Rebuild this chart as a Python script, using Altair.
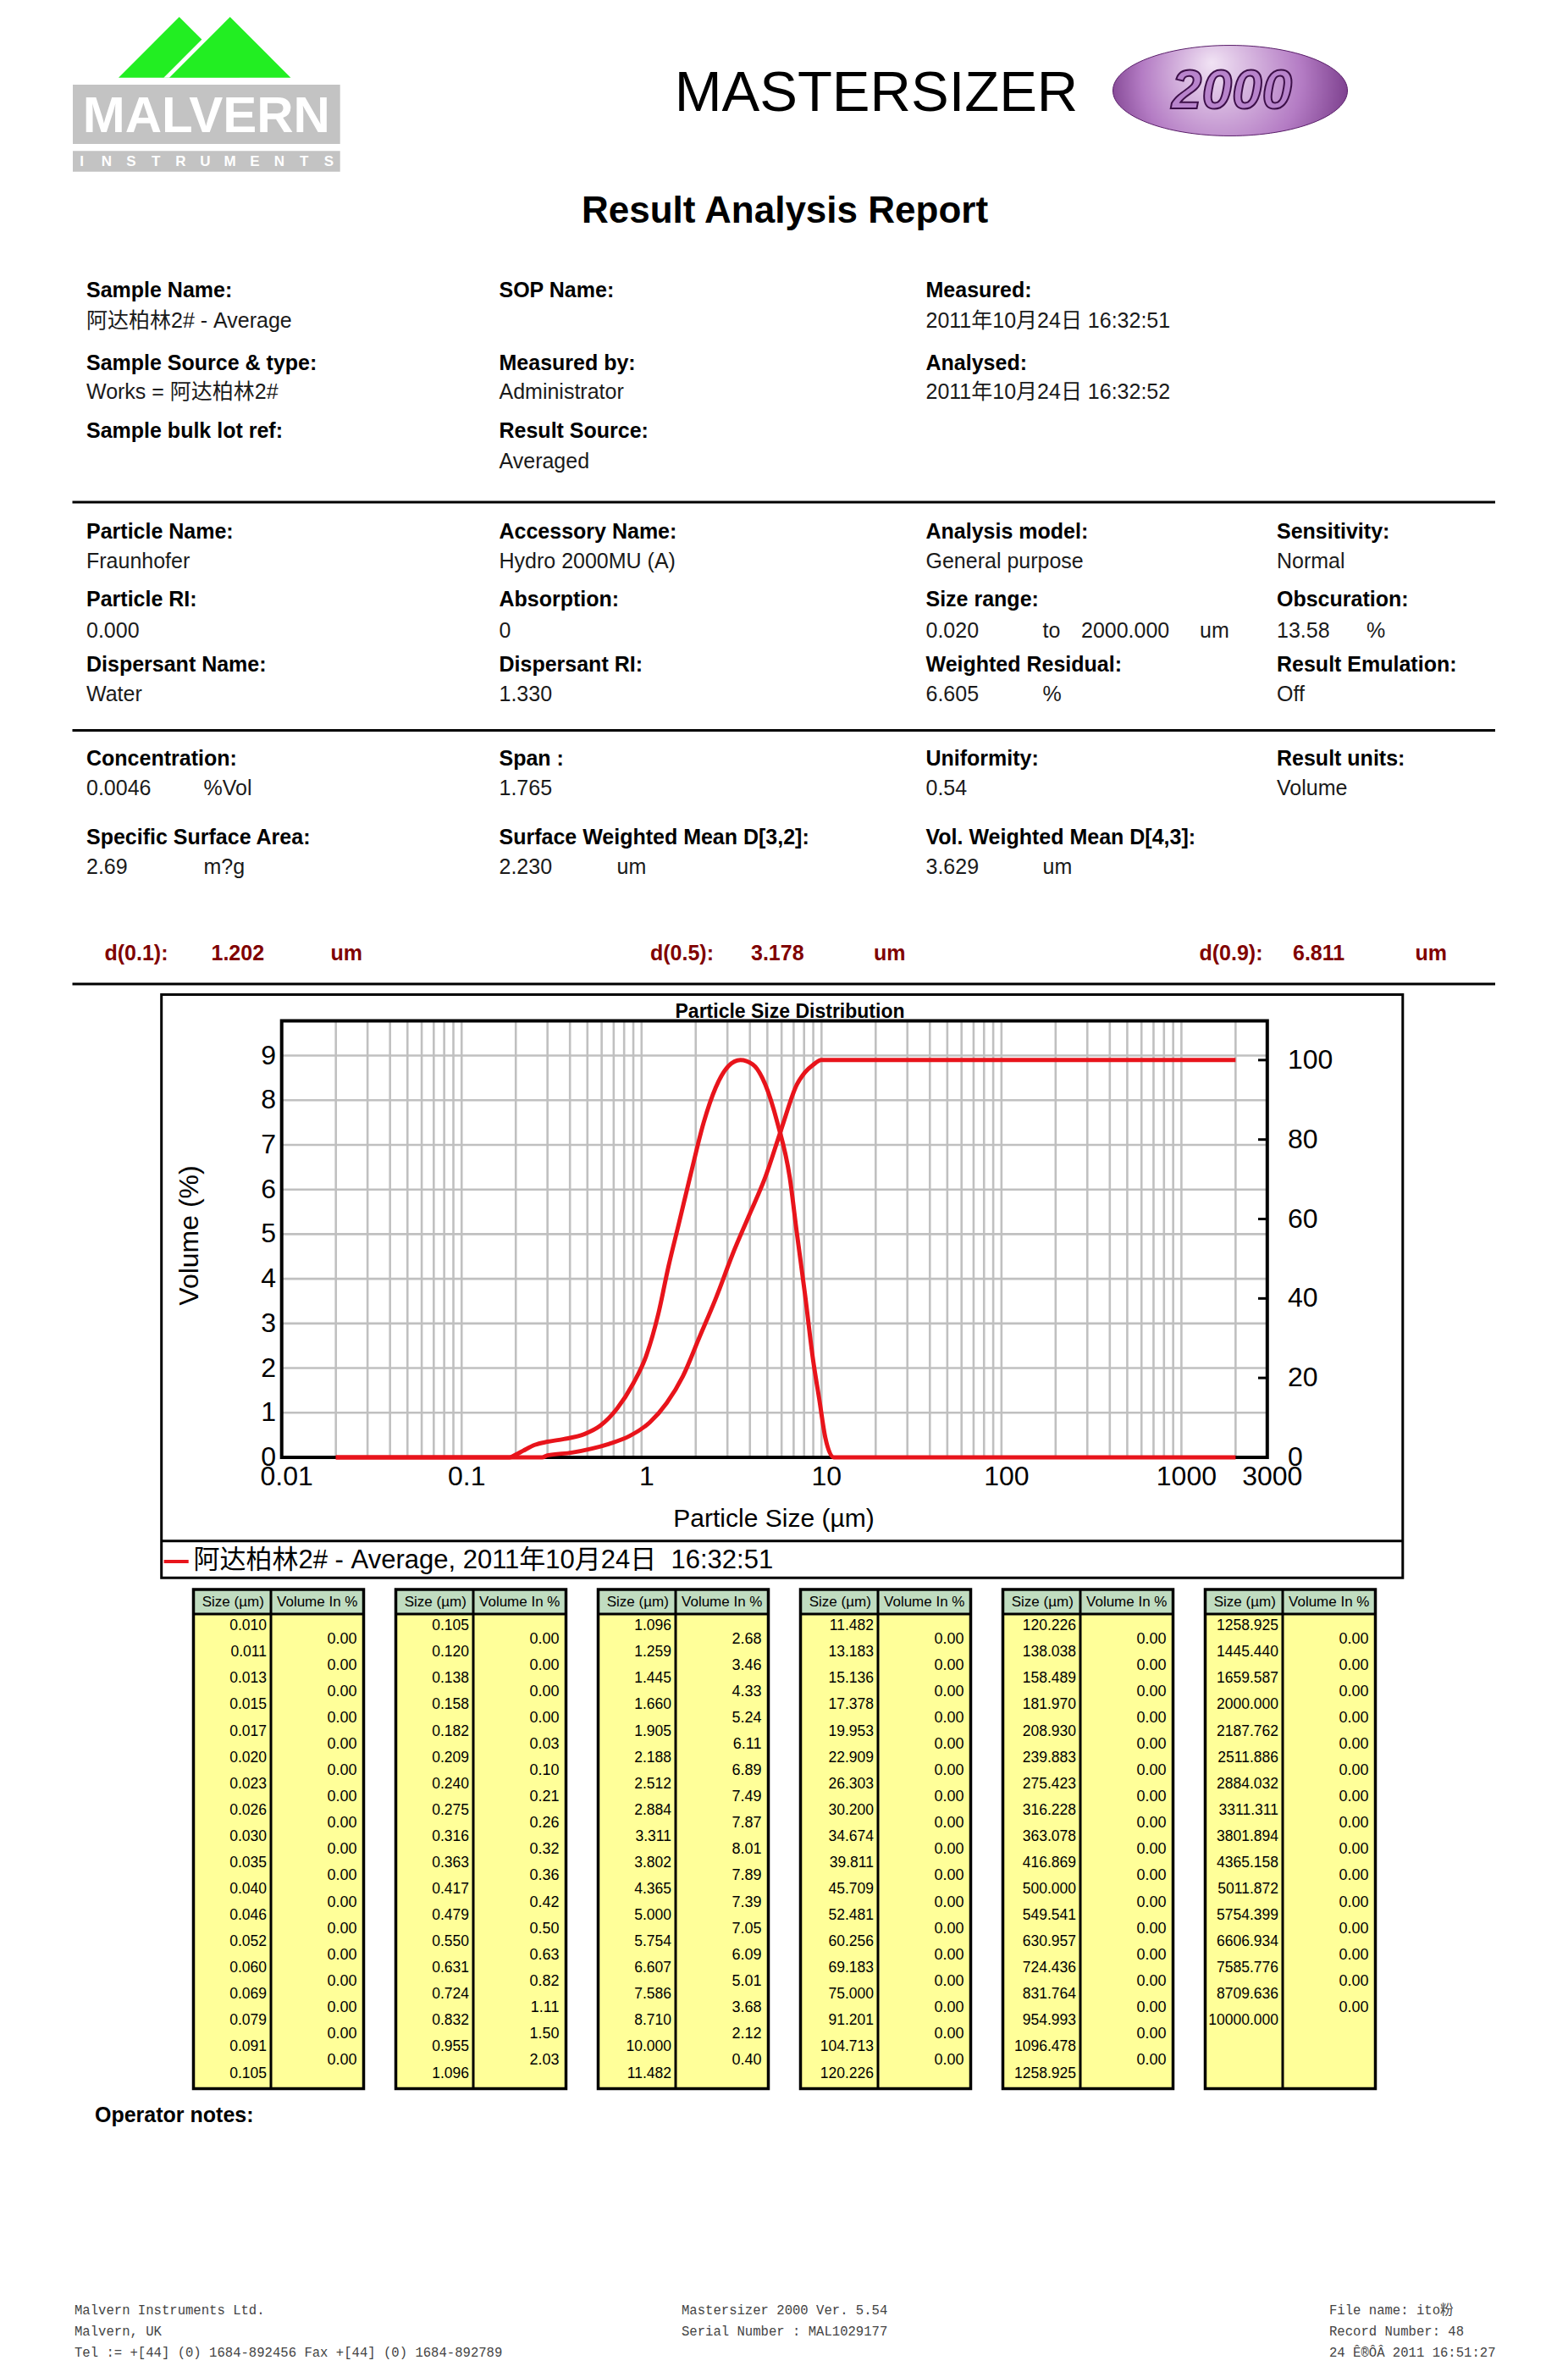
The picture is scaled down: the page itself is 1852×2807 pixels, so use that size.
import altair as alt
import pandas as pd

OFF = 8
W, H = 1836, 2791
FONT = "Liberation Sans, Arial, Noto Sans CJK SC, sans-serif"
MONO = "Liberation Mono, DejaVu Sans Mono, Noto Sans CJK SC, monospace"
RED = "#e8141b"
GRID = "#c0c0c0"
DARKRED = "#800000"

# ---------------- data ----------------
SIZE_LABELS = [
    "0.010", "0.011", "0.013", "0.015", "0.017", "0.020", "0.023", "0.026", "0.030", "0.035",
    "0.040", "0.046", "0.052", "0.060", "0.069", "0.079", "0.091", "0.105",
    "0.120", "0.138", "0.158", "0.182", "0.209", "0.240", "0.275", "0.316", "0.363", "0.417",
    "0.479", "0.550", "0.631", "0.724", "0.832", "0.955", "1.096",
    "1.259", "1.445", "1.660", "1.905", "2.188", "2.512", "2.884", "3.311", "3.802", "4.365",
    "5.000", "5.754", "6.607", "7.586", "8.710", "10.000", "11.482",
    "13.183", "15.136", "17.378", "19.953", "22.909", "26.303", "30.200", "34.674", "39.811",
    "45.709", "52.481", "60.256", "69.183", "75.000", "91.201", "104.713", "120.226",
    "138.038", "158.489", "181.970", "208.930", "239.883", "275.423", "316.228", "363.078",
    "416.869", "500.000", "549.541", "630.957", "724.436", "831.764", "954.993", "1096.478", "1258.925",
    "1445.440", "1659.587", "2000.000", "2187.762", "2511.886", "2884.032", "3311.311", "3801.894",
    "4365.158", "5011.872", "5754.399", "6606.934", "7585.776", "8709.636", "10000.000",
]
VOLUME_IN = (
    [0.00] * 17
    + [0.00, 0.00, 0.00, 0.00, 0.03, 0.10, 0.21, 0.26, 0.32, 0.36, 0.42, 0.50, 0.63, 0.82, 1.11, 1.50, 2.03]
    + [2.68, 3.46, 4.33, 5.24, 6.11, 6.89, 7.49, 7.87, 8.01, 7.89, 7.39, 7.05, 6.09, 5.01, 3.68, 2.12, 0.40]
    + [0.00] * 17
    + [0.00] * 17
    + [0.00] * 15
)

# frequency curve (size um, volume %)
FREQ_SIZE = [0.02, 0.185, 0.20, 0.22, 0.255, 0.30, 0.37, 0.48, 0.59, 0.73, 0.90, 1.06, 1.24, 1.41,
             1.61, 1.88, 2.21, 2.58, 3.03, 3.54, 4.15, 4.86, 5.69, 6.66, 7.28, 8.09, 8.98, 9.71,
             10.5, 11.7, 2000]
FREQ_VOL = [0, 0, 0.06, 0.15, 0.28, 0.35, 0.41, 0.52, 0.71, 1.09, 1.66, 2.27, 3.22, 4.27,
            5.23, 6.36, 7.49, 8.28, 8.76, 8.90, 8.80, 8.36, 7.49, 6.27, 5.05, 3.66, 2.18, 1.31,
            0.44, 0.0, 0.0]
# cumulative (undersize) curve (size um, %)
CUM_SIZE = [0.02, 0.28, 0.30, 0.41, 0.53, 0.66, 0.86, 1.11, 1.38, 1.70, 2.10, 2.59, 3.19, 3.94,
            4.87, 5.95, 7.31, 8.09, 8.98, 9.96, 2000]
CUM_VOL = [0, 0, 0.5, 1.2, 2.2, 3.4, 5.4, 8.8, 13.7, 20.5, 30.3, 40.1, 50.9, 60.7,
           70.5, 82.3, 93.9, 96.9, 98.8, 100, 100]

X_TICKS = [0.01, 0.1, 1, 10, 100, 1000, 3000]
X_TICK_LABELS = ["0.01", "0.1", "1", "10", "100", "1000", "3000"]
Y_LEFT_TICKS = [0, 1, 2, 3, 4, 5, 6, 7, 8, 9]
Y_RIGHT_TICKS = [0, 20, 40, 60, 80, 100]
X_GRID = [m * 10.0 ** e for e in range(-2, 3) for m in range(1, 10)][1:] + [1000, 2000]
Y_GRID = [1, 2, 3, 4, 5, 6, 7, 8, 9]

LEGEND_LABEL = "阿达柏林2# - Average, 2011年10月24日 \u00a016:32:51"

# ---------------- layout (page pixels) ----------------
PL, PR, PT, PB = 332.7, 1496.8, 1205.4, 1721.0
ONE = pd.DataFrame({"k": [0]})
layers = []


def texts(rows, **kw):
    df = pd.DataFrame(rows, columns=["x", "y", "t"])
    df["x"] = df["x"] - OFF
    df["y"] = df["y"] - OFF
    base = dict(font=FONT, fontSize=25, align="left", baseline="middle", color="black")
    base.update(kw)
    return alt.Chart(df).mark_text(**base).encode(
        x=alt.X("x:Q", scale=None, axis=None),
        y=alt.Y("y:Q", scale=None, axis=None),
        text="t:N",
    )


def rects(rows, **kw):
    df = pd.DataFrame(rows, columns=["x", "y", "x2", "y2"]) - OFF
    return alt.Chart(df).mark_rect(**kw).encode(
        x=alt.X("x:Q", scale=None, axis=None), x2="x2:Q",
        y=alt.Y("y:Q", scale=None, axis=None), y2="y2:Q",
    )


def segs(rows, **kw):
    df = pd.DataFrame(rows, columns=["x", "y", "x2", "y2"]) - OFF
    return alt.Chart(df).mark_rule(**kw).encode(
        x=alt.X("x:Q", scale=None, axis=None), x2="x2:Q",
        y=alt.Y("y:Q", scale=None, axis=None), y2="y2:Q",
    )


def tri(pts, color):
    df = pd.DataFrame(pts, columns=["x", "y"]) - OFF
    df["b"] = pts[0][1] - OFF
    return alt.Chart(df).mark_area(color=color, opacity=1).encode(
        x=alt.X("x:Q", scale=None, axis=None),
        y=alt.Y("y:Q", scale=None, axis=None), y2="b:Q",
    )


# ---------------- logo ----------------
GREEN = "#22ee22"
layers.append(tri([(140, 91.7), (211.7, 20), (283.4, 91.7)], GREEN))
layers.append(tri([(193.3, 91.7), (271.7, 13.3), (350.1, 91.7)], "white"))
layers.append(tri([(200, 91.7), (271.7, 20), (343.4, 91.7)], GREEN))
layers.append(rects([(86, 100, 401.7, 170), (86, 178.3, 401.7, 202.7)], color="#c3c3c3"))
layers.append(texts([(243.8, 156, "MALVERN")], fontSize=60, fontWeight="bold",
                    align="center", baseline="alphabetic", color="white"))
layers.append(texts([(96.7 + 29.16 * i, 191, ch) for i, ch in enumerate("INSTRUMENTS")],
                    fontSize=17, fontWeight="bold", align="center", color="white"))

layers.append(texts([(1035, 131, "MASTERSIZER")], fontSize=67, align="center",
                    baseline="alphabetic"))
ELLIPSE = "M -1 0 A 1 0.386 0 1 0 1 0 A 1 0.386 0 1 0 -1 0 Z"
layers.append(alt.Chart(ONE).mark_point(
    shape=ELLIPSE, size=277 ** 2, filled=True, opacity=1, strokeWidth=1, stroke="#5a1f6a",
    fill={"gradient": "radial", "x1": 0.42, "y1": 0.38, "r1": 0.0, "x2": 0.5, "y2": 0.5, "r2": 0.62,
          "stops": [{"offset": 0, "color": "#f1e3f4"}, {"offset": 0.55, "color": "#b47cc4"},
                    {"offset": 1, "color": "#5e1f70"}]},
).encode(x=alt.value(1453 - OFF), y=alt.value(107 - OFF)))
layers.append(texts([(1455, 109, "2000")], fontSize=64, fontWeight="bold",
                    fontStyle="italic", align="center", fill="#b884cc", stroke="#3c0f48",
                    strokeWidth=2))

layers.append(texts([(927, 250, "Result Analysis Report")], fontSize=44, fontWeight="bold",
                    align="center"))

# ---------------- info sections ----------------
C1, C2, C3, C4 = 102, 589.5, 1093.5, 1508
bold_rows = [
    (C1, 342.5, "Sample Name:"), (C2, 342.5, "SOP Name:"), (C3, 342.5, "Measured:"),
    (C1, 429, "Sample Source & type:"), (C2, 429, "Measured by:"), (C3, 429, "Analysed:"),
    (C1, 509, "Sample bulk lot ref:"), (C2, 509, "Result Source:"),
    (C1, 627.5, "Particle Name:"), (C2, 627.5, "Accessory Name:"), (C3, 627.5, "Analysis model:"),
    (C4, 627.5, "Sensitivity:"),
    (C1, 707.5, "Particle RI:"), (C2, 707.5, "Absorption:"), (C3, 707.5, "Size range:"),
    (C4, 707.5, "Obscuration:"),
    (C1, 784.5, "Dispersant Name:"), (C2, 784.5, "Dispersant RI:"), (C3, 784.5, "Weighted Residual:"),
    (C4, 784.5, "Result Emulation:"),
    (C1, 895.7, "Concentration:"), (C2, 895.7, "Span :"), (C3, 895.7, "Uniformity:"),
    (C4, 895.7, "Result units:"),
    (C1, 989, "Specific Surface Area:"), (C2, 989, "Surface Weighted Mean D[3,2]:"),
    (C3, 989, "Vol. Weighted Mean D[4,3]:"),
    (112, 2498, "Operator notes:"),
]
value_rows = [
    (C1, 379, "阿达柏林2# - Average"), (C3, 379, "2011年10月24日 16:32:51"),
    (C1, 462.5, "Works = 阿达柏林2#"), (C2, 462.5, "Administrator"), (C3, 462.5, "2011年10月24日 16:32:52"),
    (C2, 544.5, "Averaged"),
    (C1, 662.5, "Fraunhofer"), (C2, 662.5, "Hydro 2000MU (A)"), (C3, 662.5, "General purpose"),
    (C4, 662.5, "Normal"),
    (C1, 744.5, "0.000"), (C2, 744.5, "0"), (C3, 744.5, "0.020"), (1231.5, 744.5, "to"),
    (1277, 744.5, "2000.000"), (1417, 744.5, "um"), (C4, 744.5, "13.58"), (1614, 744.5, "%"),
    (C1, 820, "Water"), (C2, 820, "1.330"), (C3, 820, "6.605"), (1231.5, 820, "%"), (C4, 820, "Off"),
    (C1, 931, "0.0046"), (240.5, 931, "%Vol"), (C2, 931, "1.765"), (C3, 931, "0.54"), (C4, 931, "Volume"),
    (C1, 1023.5, "2.69"), (240.5, 1023.5, "m?g"), (C2, 1023.5, "2.230"), (728.5, 1023.5, "um"),
    (C3, 1023.5, "3.629"), (1231.5, 1023.5, "um"),
]
d_rows = [
    (123.5, 1126, "d(0.1):"), (249.5, 1126, "1.202"), (390.5, 1126, "um"),
    (768, 1126, "d(0.5):"), (887, 1126, "3.178"), (1032, 1126, "um"),
    (1416.5, 1126, "d(0.9):"), (1527, 1126, "6.811"), (1671.5, 1126, "um"),
]
layers.append(texts(bold_rows, fontWeight="bold"))
layers.append(texts(value_rows, color="#1a1a1a"))
layers.append(texts(d_rows, fontWeight="bold", color=DARKRED))
layers.append(segs([(85.5, 593, 1766, 593), (85.5, 862.5, 1766, 862.5), (85.5, 1162, 1766, 1162)],
                   color="black", strokeWidth=3))

# ---------------- particle size distribution plot ----------------
XS = alt.Scale(type="log", domain=[0.01, 3000], range=[PL - OFF, PR - OFF], nice=False)
YL = alt.Scale(type="linear", domain=[0, 9.78], range=[PB - OFF, PT - OFF], nice=False, zero=False)
YR = alt.Scale(type="linear", domain=[0, 109.9], range=[PB - OFF, PT - OFF], nice=False, zero=False)

layers.append(rects([(190.7, 1174.6, 1656.8, 1863.3)], fill="white", stroke="black", strokeWidth=3))
layers.append(segs([(190.7, 1819.7, 1656.8, 1819.7)], color="black", strokeWidth=3))

layers.append(alt.Chart(pd.DataFrame({"g": X_GRID})).mark_rule(color=GRID, strokeWidth=2.6).encode(
    x=alt.X("g:Q", scale=XS, axis=None), y=alt.value(PT - OFF), y2=alt.value(PB - OFF)))
layers.append(alt.Chart(pd.DataFrame({"g": Y_GRID})).mark_rule(color=GRID, strokeWidth=2.6).encode(
    y=alt.Y("g:Q", scale=YL, axis=None), x=alt.value(PL - OFF), x2=alt.value(PR - OFF)))
layers.append(rects([(PL, PT, PR, PB)], fill="transparent", stroke="black", strokeWidth=4))
layers.append(alt.Chart(pd.DataFrame({"g": Y_RIGHT_TICKS})).mark_rule(color="black", strokeWidth=3).encode(
    y=alt.Y("g:Q", scale=YR, axis=None), x=alt.value(1486 - OFF), x2=alt.value(PR - OFF)))

layers.append(alt.Chart(pd.DataFrame({"s": FREQ_SIZE, "v": FREQ_VOL})).mark_line(
    color=RED, strokeWidth=5, interpolate="monotone").encode(
    x=alt.X("s:Q", scale=XS, axis=None), y=alt.Y("v:Q", scale=YL, axis=None)))
layers.append(alt.Chart(pd.DataFrame({"s": CUM_SIZE, "v": CUM_VOL})).mark_line(
    color=RED, strokeWidth=5, interpolate="monotone").encode(
    x=alt.X("s:Q", scale=XS, axis=None), y=alt.Y("v:Q", scale=YR, axis=None)))

layers.append(alt.Chart(pd.DataFrame({"v": X_TICKS, "t": X_TICK_LABELS})).mark_text(
    font=FONT, fontSize=32, align="center", baseline="middle", dx=6, color="black").encode(
    x=alt.X("v:Q", scale=XS, axis=None), y=alt.value(1744 - OFF), text="t:N"))
layers.append(alt.Chart(pd.DataFrame({"v": Y_LEFT_TICKS})).mark_text(
    font=FONT, fontSize=32, align="right", baseline="middle", color="black").encode(
    y=alt.Y("v:Q", scale=YL, axis=None), x=alt.value(326 - OFF), text="v:N"))
layers.append(alt.Chart(pd.DataFrame({"v": Y_RIGHT_TICKS})).mark_text(
    font=FONT, fontSize=32, align="left", baseline="middle", color="black").encode(
    y=alt.Y("v:Q", scale=YR, axis=None), x=alt.value(1521 - OFF), text="v:N"))

layers.append(texts([(933, 1195, "Particle Size Distribution")], fontSize=23, fontWeight="bold",
                    align="center"))
layers.append(texts([(914, 1794, "Particle Size (µm)")], fontSize=30, align="center"))
layers.append(texts([(223.6, 1459, "Volume (%)")], fontSize=32, align="center", angle=270))
layers.append(segs([(193.6, 1844, 222.7, 1844)], color=RED, strokeWidth=4))
layers.append(texts([(228.5, 1843, LEGEND_LABEL)], fontSize=31))

# ---------------- tables ----------------
T_TOP, T_HEAD, T_BOT = 1877, 1906, 2466.5
T_W, T_DIV = 201, 91.5
ROW0, ROWH = 1920.2, 31.08
head_rects, body_rects, borders, lines = [], [], [], []
head_txt, size_txt, vol_txt = [], [], []
for t in range(6):
    lx = 228.5 + 239 * t
    head_rects.append((lx, T_TOP, lx + T_W, T_HEAD))
    body_rects.append((lx, T_HEAD, lx + T_W, T_BOT))
    borders.append((lx, T_TOP, lx + T_W, T_BOT))
    lines.append((lx + T_DIV, T_TOP, lx + T_DIV, T_BOT))
    lines.append((lx, T_HEAD, lx + T_W, T_HEAD))
    head_txt.append((lx + T_DIV / 2 + 1, 1892, "Size (µm)"))
    head_txt.append((lx + T_DIV + (T_W - T_DIV) / 2, 1892, "Volume In %"))
    s0 = 17 * t
    s1 = min(s0 + 18, len(SIZE_LABELS))
    for i, k in enumerate(range(s0, s1)):
        size_txt.append((lx + T_DIV - 5, ROW0 + ROWH * i, SIZE_LABELS[k]))
    v1 = min(s0 + 17, len(VOLUME_IN))
    for i, k in enumerate(range(s0, v1)):
        vol_txt.append((lx + T_W - 8, ROW0 + ROWH * (i + 0.5), f"{VOLUME_IN[k]:.2f}"))

layers.append(rects(head_rects, color="#c0dcc0"))
layers.append(rects(body_rects, color="#ffff99"))
layers.append(segs(lines, color="black", strokeWidth=3))
layers.append(rects(borders, fill="transparent", stroke="black", strokeWidth=3.5))
layers.append(texts(head_txt, fontSize=17, align="center"))
layers.append(texts(size_txt, fontSize=17.5, align="right"))
layers.append(texts(vol_txt, fontSize=18, align="right"))

# ---------------- footer ----------------
foot = [
    (88, 2728, "Malvern Instruments Ltd."), (88, 2753, "Malvern, UK"),
    (88, 2777.5, "Tel := +[44] (0) 1684-892456 Fax +[44] (0) 1684-892789"),
    (805, 2728, "Mastersizer 2000 Ver. 5.54"), (805, 2753, "Serial Number : MAL1029177"),
    (1570, 2728, "File name: ito粉"), (1570, 2753, "Record Number: 48"),
    (1570, 2777.5, "24 Ê®ÔÂ 2011 16:51:27"),
]
layers.append(texts(foot, font=MONO, fontSize=15.6, color="#444444"))

chart = (
    alt.layer(*layers)
    .resolve_scale(x="independent", y="independent")
    .properties(width=W, height=H, padding=0, autosize=alt.AutoSizeParams(type="none"),
                background="white")
    .configure_view(stroke=None)
)
chart.save("out.html", embed_options={"renderer": "svg", "actions": False})
